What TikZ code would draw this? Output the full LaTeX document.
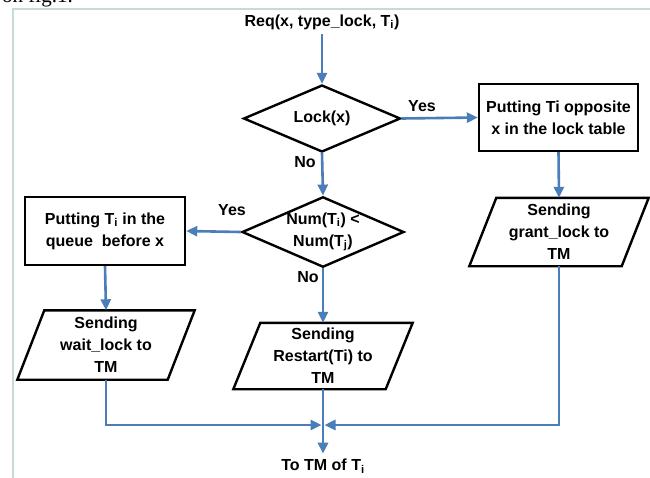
\documentclass[tikz,border=0pt]{standalone}
\usepackage{fontspec}
\setmainfont{Liberation Sans}
\newfontfamily\serifx{Liberation Serif}
\usetikzlibrary{arrows.meta,calc,shapes.geometric}
\definecolor{flowblue}{RGB}{74,126,187}
\definecolor{framec}{RGB}{197,220,211}
\tikzset{
  txt/.style={font=\fontsize{16}{22}\selectfont\bfseries, align=center},
  procbox/.style={txt, draw=black, line width=2.4pt, inner sep=0pt},
  decision/.style={txt, draw=black, diamond, line width=2.4pt, inner sep=0pt, aspect=2.3},
  ionode/.style={txt, inner sep=0pt},
  iobox/.style={line width=2.4pt, line join=miter},
  flow/.style={draw=flowblue, line width=2.6pt, -{Triangle[length=11pt,width=10pt]}},
  lbl/.style={font=\fontsize{16}{19}\selectfont\bfseries, inner sep=0pt}
}
\newcommand{\paradraw}[2]{%
  \draw[iobox] ($(#1.north west)+(#2,0)$) -- ($(#1.north east)+(#2,0)$)
    -- ($(#1.south east)+(-#2,0)$) -- ($(#1.south west)+(-#2,0)$) -- cycle;}
\begin{document}
\begin{tikzpicture}[x=1pt,y=-1pt]
\useasboundingbox (0,0) rectangle (650,477);
\clip (0,0) rectangle (650,477);
\fill[white] (0,0) rectangle (650,477);
% frame fragment
\draw[framec, line width=2pt] (13,478) -- (13,8.5) -- (651,8.5);
\node[font=\serifx\fontsize{21}{21}\selectfont, anchor=base west, inner sep=0pt] (topfrag) at (2,2) {on fig.1.};

% nodes
\node[txt, inner sep=1pt] (req) at (322,22) {Req(x, type\_lock, T\textsubscript{i})};
\node[decision, minimum width=157pt, minimum height=67pt] (lock) at (322,118.5) {Lock(x)};
\node[procbox, minimum width=159pt, minimum height=67pt] (boxR) at (558.5,117.5) {Putting Ti opposite\\x in the lock table};
\node[ionode, minimum width=152pt, minimum height=68pt] (grant) at (559,232) {Sending\\grant\_lock to\\TM};
\paradraw{grant}{13.5}
\node[decision, minimum width=157pt, minimum height=69pt] (num) at (323,232) {Num(T\textsubscript{i}) <\\Num(T\textsubscript{j})};
\node[procbox, minimum width=160pt, minimum height=68pt] (boxL) at (105,231) {Putting T\textsubscript{i} in the\\queue~~before x};
\node[ionode, minimum width=150pt, minimum height=69pt] (wait) at (106,345) {Sending\\wait\_lock to\\TM};
\paradraw{wait}{13.5}
\node[ionode, minimum width=152pt, minimum height=66pt] (restart) at (323,356) {Sending\\Restart(Ti) to\\TM};
\paradraw{restart}{13.5}
\node[txt, inner sep=1pt] (toTM) at (323,466) {To TM of T\textsubscript{i}};
\coordinate (mrg) at (323,425);

% connectors
\draw[flow] (req.south) ++(0,3) -- (lock.north);
\draw[flow] (lock.east) -- (boxR.west);
\draw[flow] (boxR.south) -- (grant.north);
\draw[flow] (lock.south) -- (num.north);
\draw[flow] (num.west) -- (boxL.east);
\draw[flow] (boxL.south) -- (wait.north);
\draw[flow] (num.south) -- (restart.north);
\draw[flow, shorten >=1.5pt] (wait.south) |- (mrg);
\draw[flow, shorten >=1.5pt] (grant.south) |- (mrg);
\draw[flow, shorten >=4pt] (restart.south) -- (toTM.north);

% labels
\node[lbl] (yes1) at (422,106) {Yes};
\node[lbl] (no1) at (305,162) {No};
\node[lbl] (yes2) at (232,210) {Yes};
\node[lbl] (no2) at (308,277) {No};
\end{tikzpicture}
\end{document}
